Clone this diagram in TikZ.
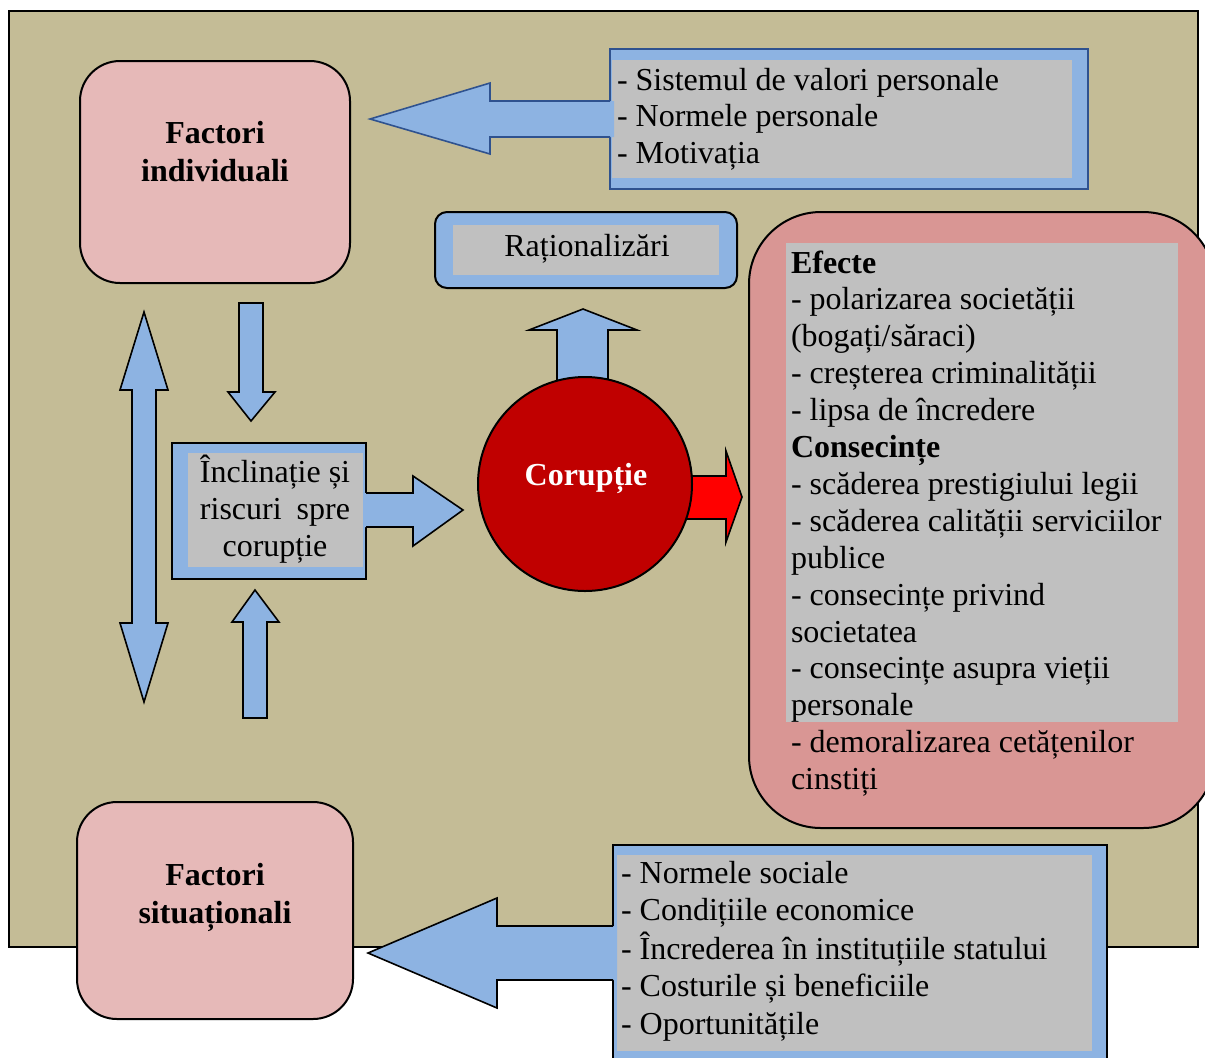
\documentclass[tikz,border=0pt]{standalone}
\usepackage{fontspec}
\setmainfont{Liberation Serif}
\definecolor{bgtan}{HTML}{C4BC96}
\definecolor{boxpink}{HTML}{E6B9B8}
\definecolor{effpink}{HTML}{D99694}
\definecolor{arrblue}{HTML}{8DB3E2}
\definecolor{framegray}{HTML}{C0C0C0}
\definecolor{corred}{HTML}{C00000}
\definecolor{brightred}{HTML}{FF0000}
\definecolor{navyline}{HTML}{2F528F}
\newcommand{\txtlines}[2][l]{\begin{tabular}[t]{@{}#1@{}}#2\end{tabular}}
\begin{document}
\begin{tikzpicture}[x=0.5pt,y=-0.5pt,line join=miter,
  boxline/.style={line width=1pt},
  arrline/.style={line width=0.8pt},
  txt/.style={inner sep=0pt,outer sep=0pt,font=\fontsize{16}{18.35}\selectfont},
  factbox/.style={draw=black,boxline,fill=boxpink,rounded corners=20pt,inner sep=0pt},
  plainbox/.style={draw=black,boxline,fill=arrblue,inner sep=0pt}]
\clip (0,0) rectangle (1205,1057);
\fill[white] (0,0) rectangle (1205,1057);
% background panel
\node[draw=black,boxline,fill=bgtan,anchor=north west,inner sep=0pt,
  minimum width=594.5pt,minimum height=468pt] (bg) at (8,10) {};
% boxes
\node[factbox,minimum width=135pt,minimum height=111pt] (indiv) at (215,172) {};
\node[plainbox,draw=navyline,minimum width=239pt,minimum height=70pt] (persbox) at (849,119) {};
\node[plainbox,rounded corners=6pt,minimum width=151pt,minimum height=38pt] (ratbox) at (586,250) {};
\node[plainbox,minimum width=97pt,minimum height=68pt] (inclbox) at (269,511) {};
\node[draw=black,boxline,fill=effpink,rounded corners=36pt,inner sep=0pt,
  minimum width=233pt,minimum height=308pt] (effbox) at (982,520) {};
\node[factbox,minimum width=138pt,minimum height=108.5pt] (situ) at (215,910.5) {};
\node[plainbox,minimum width=247pt,minimum height=112.5pt] (socbox) at (860,957.5) {};
% gray text frames
\fill[framegray] (612,60) rectangle (1072,178);
\fill[framegray] (453,225) rectangle (719,275);
\fill[framegray] (188,453) rectangle (363,567);
\fill[framegray] (786,243) rectangle (1178,722);
\fill[framegray] (617,855) rectangle (1092,1051);
% top arrow (to Factori individuali)
\fill[arrblue] (614,101) -- (490,101) -- (490,83) -- (370,119) -- (490,154) -- (490,137) -- (614,137) -- cycle;
\draw[navyline,arrline] (610,101) -- (490,101) -- (490,83) -- (370,119) -- (490,154) -- (490,137) -- (610,137);
% bottom arrow (to Factori situationali)
\fill[arrblue] (617,926) -- (497,926) -- (497,898) -- (368,953) -- (497,1008) -- (497,980) -- (617,980) -- cycle;
\draw[black,arrline] (613,926) -- (497,926) -- (497,898) -- (368,953) -- (497,1008) -- (497,980) -- (613,980);
% double vertical arrow
\filldraw[fill=arrblue,draw=black,arrline] (144,312) -- (168,390) -- (156,390) -- (156,623) -- (168,623) -- (144,702)
  -- (120,623) -- (132,623) -- (132,390) -- (120,390) -- cycle;
% down arrow into inclination box
\filldraw[fill=arrblue,draw=black,arrline] (239,303) -- (263,303) -- (263,392) -- (275,392) -- (251,421) -- (228,392) -- (239,392) -- cycle;
% up arrow into inclination box
\filldraw[fill=arrblue,draw=black,arrline] (243,718) -- (267,718) -- (267,622) -- (279,622) -- (255,590) -- (232,622) -- (243,622) -- cycle;
% right arrow from inclination box
\fill[arrblue] (363,493) -- (413,493) -- (413,476) -- (463,510) -- (413,546) -- (413,527) -- (363,527) -- cycle;
\draw[black,arrline] (366,493) -- (413,493) -- (413,476) -- (463,510) -- (413,546) -- (413,527) -- (366,527);
% up arrow to Rationalizari
\filldraw[fill=arrblue,draw=black,arrline] (557,420) -- (557,330) -- (529,330) -- (583,309) -- (637,330) -- (608,330) -- (608,420) -- cycle;
% red arrow to effects
\filldraw[fill=brightred,draw=black,arrline] (650,476) -- (726,476) -- (726,451) -- (742,497) -- (726,542) -- (726,519) -- (650,519) -- cycle;
% corruption circle
\node[circle,draw=black,boxline,fill=corred,minimum size=107pt,inner sep=0pt] (corr) at (585,484) {};
% texts
\node[txt,anchor=base,font=\fontsize{16}{19}\selectfont\bfseries] (indivtxt) at (215,143) {\txtlines[c]{Factori\\individuali}};
\node[txt,anchor=base,font=\fontsize{16}{19}\selectfont\bfseries] (situtxt) at (215,885) {\txtlines[c]{Factori\\situaționali}};
\node[txt,anchor=base west] (perstxt) at (617,90) {\txtlines{- Sistemul de valori personale\\- Normele personale\\- Motivația}};
\node[txt,anchor=base] (rattxt) at (587,256) {Raționalizări};
\node[txt,anchor=base,font=\fontsize{16}{18.5}\selectfont] (incltxt) at (275,482) {\txtlines[c]{Înclinație și\\riscuri\hspace{3.5pt} spre\\corupție}};
\node[txt,anchor=base,text=white,font=\fontsize{16}{18.5}\selectfont\bfseries] (corrtxt) at (586,485) {Corupție};
\node[txt,anchor=base west,font=\fontsize{16}{18.45}\selectfont] (efftxt) at (791,273) {\txtlines{\textbf{Efecte}\\
- polarizarea societății\\
(bogați/săraci)\\
- creșterea criminalității\\
- lipsa de încredere\\
\textbf{Consecințe}\\
- scăderea prestigiului legii\\
- scăderea calității serviciilor\\
publice\\
- consecințe privind\\
societatea\\
- consecințe asupra vieții\\
personale\\
- demoralizarea cetățenilor\\
cinstiți}};
\node[txt,anchor=base west,font=\fontsize{16}{18.75}\selectfont] (soctxt) at (621,883) {\txtlines{- Normele sociale\\- Condițiile economice\\- Încrederea în instituțiile statului\\- Costurile și beneficiile\\- Oportunitățile}};
\end{tikzpicture}
\end{document}
